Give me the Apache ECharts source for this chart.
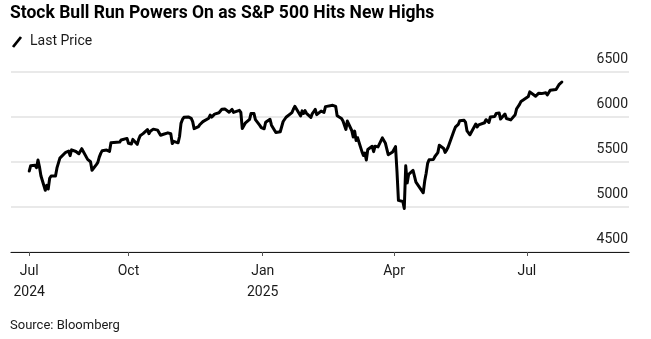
<!DOCTYPE html>
<html>
<head>
<meta charset="utf-8">
<script src="https://cdn.jsdelivr.net/npm/echarts@6/dist/echarts.min.js"></script>
<style>
  html, body { margin: 0; padding: 0; background: #fff; }
  #chart { width: 651px; height: 339px; }
</style>
</head>
<body>
<div id="chart"></div>
<script>
// S&P 500 daily closes, Jul 25 2024 – Jul 25 2025
const dates = [
  '2024-07-25','2024-07-26','2024-07-29','2024-07-30','2024-07-31','2024-08-01','2024-08-02','2024-08-05','2024-08-06','2024-08-07',
  '2024-08-08','2024-08-09','2024-08-12','2024-08-13','2024-08-14','2024-08-15','2024-08-16','2024-08-19','2024-08-20','2024-08-21',
  '2024-08-22','2024-08-23','2024-08-26','2024-08-27','2024-08-28','2024-08-29','2024-08-30','2024-09-03','2024-09-04','2024-09-05',
  '2024-09-06','2024-09-09','2024-09-10','2024-09-11','2024-09-12','2024-09-13','2024-09-16','2024-09-17','2024-09-18','2024-09-19',
  '2024-09-20','2024-09-23','2024-09-24','2024-09-25','2024-09-26','2024-09-27','2024-09-30','2024-10-01','2024-10-02','2024-10-03',
  '2024-10-04','2024-10-07','2024-10-08','2024-10-09','2024-10-10','2024-10-11','2024-10-14','2024-10-15','2024-10-16','2024-10-17',
  '2024-10-18','2024-10-21','2024-10-22','2024-10-23','2024-10-24','2024-10-25','2024-10-28','2024-10-29','2024-10-30','2024-10-31',
  '2024-11-01','2024-11-04','2024-11-05','2024-11-06','2024-11-07','2024-11-08','2024-11-11','2024-11-12','2024-11-13','2024-11-14',
  '2024-11-15','2024-11-18','2024-11-19','2024-11-20','2024-11-21','2024-11-22','2024-11-25','2024-11-26','2024-11-27','2024-11-29',
  '2024-12-02','2024-12-03','2024-12-04','2024-12-05','2024-12-06','2024-12-09','2024-12-10','2024-12-11','2024-12-12','2024-12-13',
  '2024-12-16','2024-12-17','2024-12-18','2024-12-19','2024-12-20','2024-12-23','2024-12-24','2024-12-26','2024-12-27','2024-12-30',
  '2024-12-31','2025-01-02','2025-01-03','2025-01-06','2025-01-07','2025-01-08','2025-01-10','2025-01-13','2025-01-14','2025-01-15',
  '2025-01-16','2025-01-17','2025-01-21','2025-01-22','2025-01-23','2025-01-24','2025-01-27','2025-01-28','2025-01-29','2025-01-30',
  '2025-01-31','2025-02-03','2025-02-04','2025-02-05','2025-02-06','2025-02-07','2025-02-10','2025-02-11','2025-02-12','2025-02-13',
  '2025-02-14','2025-02-18','2025-02-19','2025-02-20','2025-02-21','2025-02-24','2025-02-25','2025-02-26','2025-02-27','2025-02-28',
  '2025-03-03','2025-03-04','2025-03-05','2025-03-06','2025-03-07','2025-03-10','2025-03-11','2025-03-12','2025-03-13','2025-03-14',
  '2025-03-17','2025-03-18','2025-03-19','2025-03-20','2025-03-21','2025-03-24','2025-03-25','2025-03-26','2025-03-27','2025-03-28',
  '2025-03-31','2025-04-01','2025-04-02','2025-04-03','2025-04-04','2025-04-07','2025-04-08','2025-04-09','2025-04-10','2025-04-11',
  '2025-04-14','2025-04-15','2025-04-16','2025-04-17','2025-04-21','2025-04-22','2025-04-23','2025-04-24','2025-04-25','2025-04-28',
  '2025-04-29','2025-04-30','2025-05-01','2025-05-02','2025-05-05','2025-05-06','2025-05-07','2025-05-08','2025-05-09','2025-05-12',
  '2025-05-13','2025-05-14','2025-05-15','2025-05-16','2025-05-19','2025-05-20','2025-05-21','2025-05-22','2025-05-23','2025-05-27',
  '2025-05-28','2025-05-29','2025-05-30','2025-06-02','2025-06-03','2025-06-04','2025-06-05','2025-06-06','2025-06-09','2025-06-10',
  '2025-06-11','2025-06-12','2025-06-13','2025-06-16','2025-06-17','2025-06-18','2025-06-20','2025-06-23','2025-06-24','2025-06-25',
  '2025-06-26','2025-06-27','2025-06-30','2025-07-01','2025-07-02','2025-07-03','2025-07-07','2025-07-08','2025-07-09','2025-07-10',
  '2025-07-11','2025-07-14','2025-07-15','2025-07-16','2025-07-17','2025-07-18','2025-07-21','2025-07-22','2025-07-23','2025-07-24',
  '2025-07-25'
];

const lastPrice = [
  5399, 5459, 5464, 5436, 5522, 5447, 5347, 5186, 5240, 5200,
  5319, 5344, 5344, 5434, 5455, 5543, 5554, 5608, 5597, 5621,
  5571, 5635, 5617, 5626, 5592, 5592, 5648, 5529, 5520, 5503,
  5408, 5471, 5496, 5554, 5596, 5626, 5633, 5635, 5618, 5714,
  5703, 5719, 5733, 5722, 5745, 5738, 5762, 5709, 5710, 5700,
  5751, 5696, 5751, 5792, 5780, 5815, 5860, 5815, 5842, 5841,
  5865, 5854, 5851, 5797, 5810, 5808, 5824, 5833, 5814, 5705,
  5729, 5713, 5783, 5929, 5973, 5996, 6001, 5984, 5985, 5949,
  5871, 5894, 5917, 5917, 5949, 5969, 5987, 6022, 5999, 6032,
  6047, 6050, 6086, 6075, 6090, 6053, 6035, 6084, 6051, 6051,
  6074, 6051, 5872, 5867, 5931, 5974, 6040, 6038, 5971, 5907,
  5882, 5869, 5942, 5975, 5909, 5918, 5827, 5836, 5843, 5950,
  5937, 5997, 6049, 6086, 6119, 6101, 6012, 6068, 6039, 6071,
  6041, 5995, 6038, 6061, 6084, 6026, 6066, 6069, 6052, 6115,
  6115, 6130, 6144, 6118, 6013, 5983, 5955, 5956, 5862, 5955,
  5850, 5778, 5843, 5739, 5770, 5615, 5572, 5599, 5522, 5639,
  5675, 5615, 5675, 5663, 5668, 5768, 5777, 5712, 5693, 5581,
  5612, 5633, 5671, 5397, 5074, 5062, 4983, 5457, 5268, 5363,
  5406, 5397, 5276, 5283, 5158, 5288, 5376, 5485, 5525, 5529,
  5561, 5569, 5604, 5687, 5650, 5607, 5631, 5664, 5660, 5844,
  5887, 5893, 5917, 5958, 5964, 5940, 5845, 5842, 5803, 5922,
  5889, 5912, 5912, 5936, 5970, 5971, 5939, 6000, 6006, 6039,
  6022, 6045, 5977, 6033, 5983, 5981, 5968, 6025, 6092, 6092,
  6141, 6173, 6205, 6198, 6227, 6279, 6230, 6226, 6263, 6280,
  6260, 6269, 6244, 6264, 6297, 6297, 6306, 6310, 6359, 6363,
  6389
];

// Bottom-axis tick positions and their labels
const tickDates = ['2024-07-25', '2024-10-01', '2025-01-01', '2025-04-01', '2025-07-01'];
const tickLabels = ['Jul\n2024', 'Oct', 'Jan\n2025', 'Apr', 'Jul'];

const yTicks = [4500, 5000, 5500, 6000, 6500];

const toTs = d => Date.parse(d + 'T00:00:00Z');
const DAY = 86400000;

const seriesData = dates.map((d, i) => [toTs(d), lastPrice[i]]);
const tickTs = tickDates.map(toTs);
const labelByTs = {};
tickTs.forEach((t, i) => { labelByTs[t] = tickLabels[i]; });

const FONT = 'Roboto, "Liberation Sans", Arial, sans-serif';

const chart = echarts.init(document.getElementById('chart'), null, { renderer: 'canvas' });

chart.setOption({
  animation: false,
  backgroundColor: '#ffffff',
  textStyle: { fontFamily: FONT },
  grid: { left: 11, right: 22, top: 72, bottom: 87, containLabel: false },
  xAxis: {
    type: 'value',
    min: toTs('2024-07-25') - 12.5 * DAY,
    max: toTs('2025-07-25') + 46 * DAY,
    axisLine: { show: true, lineStyle: { color: '#1a1a1a', width: 1.2 } },
    axisTick: {
      show: true, length: 4, inside: false,
      customValues: tickTs,
      lineStyle: { color: '#555', width: 1 }
    },
    axisLabel: {
      customValues: tickTs,
      formatter: v => labelByTs[v] || '',
      color: '#1a1a1a', fontSize: 14, fontFamily: FONT,
      lineHeight: 21, margin: 9
    },
    splitLine: { show: false }
  },
  yAxis: {
    type: 'value',
    position: 'right',
    min: yTicks[0],
    max: yTicks[yTicks.length - 1],
    interval: 500,
    axisLine: { show: false },
    axisTick: { show: false },
    axisLabel: {
      inside: true,
      margin: 1,
      formatter: v => String(v),
      color: '#222', fontSize: 14, fontFamily: FONT,
      verticalAlign: 'bottom', lineHeight: 15, padding: [0, 0, 5, 0]
    },
    splitLine: { show: true, lineStyle: { color: '#e2e2e2', width: 1.5 } }
  },
  series: [{
    name: 'Last Price',
    type: 'line',
    data: seriesData,
    showSymbol: false,
    symbol: 'none',
    lineStyle: { color: '#000', width: 3, join: 'round', cap: 'round' },
    z: 5
  }],
  graphic: [
    {
      type: 'text', left: 10, top: 5,
      style: {
        text: 'Stock Bull Run Powers On as S&P 500 Hits New Highs',
        fill: '#000', font: 'bold 17.5px ' + FONT
      }
    },
    {
      type: 'line',
      shape: { x1: 13, y1: 47, x2: 21, y2: 37 },
      style: { stroke: '#000', lineWidth: 2.8, lineCap: 'butt' }
    },
    {
      type: 'text', left: 30, top: 34,
      style: { text: 'Last Price', fill: '#1a1a1a', font: '14px ' + FONT }
    },
    {
      type: 'text', left: 10, top: 319,
      style: { text: 'Source: Bloomberg', fill: '#1a1a1a', font: '13px ' + FONT }
    }
  ]
});
</script>
</body>
</html>
